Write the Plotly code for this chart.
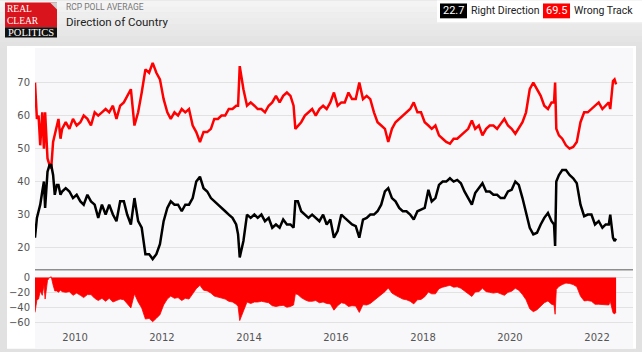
import plotly.graph_objects as go

# ---------------- data ----------------
dates = [
    "2009-01-30", "2009-02-15", "2009-03-01", "2009-03-15", "2009-04-01", "2009-04-15", "2009-04-25",
    "2009-05-05", "2009-05-15", "2009-06-01", "2009-06-15", "2009-07-01", "2009-07-15", "2009-08-01",
    "2009-08-15", "2009-09-01", "2009-09-15", "2009-10-15", "2009-11-15", "2009-12-15",
    "2010-01-15", "2010-02-15", "2010-03-15", "2010-04-15", "2010-05-15", "2010-06-15",
    "2010-07-15", "2010-08-15", "2010-09-15", "2010-10-15", "2010-11-15", "2010-12-15",
    "2011-01-15", "2011-02-15", "2011-03-15", "2011-04-15", "2011-05-15", "2011-06-15",
    "2011-07-15", "2011-08-15", "2011-09-15", "2011-10-15", "2011-11-15", "2011-12-15",
    "2012-01-15", "2012-02-15", "2012-03-15", "2012-04-15", "2012-05-15", "2012-06-15",
    "2012-07-15", "2012-08-15", "2012-09-15", "2012-10-15", "2012-11-15", "2012-12-15",
    "2013-01-15", "2013-02-15", "2013-03-15", "2013-04-15", "2013-05-15", "2013-06-15",
    "2013-07-15", "2013-08-15", "2013-09-15", "2013-10-01", "2013-10-15", "2013-11-15", "2013-12-15",
    "2014-01-15", "2014-02-15", "2014-03-15", "2014-04-15", "2014-05-15", "2014-06-15",
    "2014-07-15", "2014-08-15", "2014-09-15", "2014-10-15", "2014-11-15", "2014-12-15",
    "2015-01-10", "2015-01-25", "2015-02-15", "2015-03-15", "2015-04-15", "2015-05-15", "2015-06-15",
    "2015-07-15", "2015-08-15", "2015-09-15", "2015-10-15", "2015-11-15", "2015-12-15",
    "2016-01-15", "2016-02-15", "2016-03-15", "2016-04-15", "2016-05-15", "2016-06-15",
    "2016-07-15", "2016-08-15", "2016-09-15", "2016-10-15", "2016-11-15", "2016-12-15",
    "2017-01-15", "2017-02-15", "2017-03-15", "2017-04-15", "2017-05-15", "2017-06-15",
    "2017-07-15", "2017-08-15", "2017-09-15", "2017-10-15", "2017-11-15", "2017-12-15",
    "2018-01-15", "2018-02-15", "2018-03-15", "2018-04-15", "2018-05-15", "2018-06-15",
    "2018-07-15", "2018-08-15", "2018-09-15", "2018-10-15", "2018-11-15", "2018-12-15",
    "2019-01-15", "2019-02-15", "2019-03-15", "2019-04-15", "2019-05-15", "2019-06-15",
    "2019-07-15", "2019-08-15", "2019-09-15", "2019-10-15", "2019-11-15", "2019-12-15",
    "2020-01-15", "2020-02-15", "2020-03-15", "2020-04-15", "2020-05-15", "2020-06-15",
    "2020-07-15", "2020-08-15", "2020-09-15", "2020-10-15", "2020-11-15", "2020-12-15",
    "2021-01-05", "2021-01-14", "2021-01-24", "2021-02-15", "2021-03-15", "2021-04-15",
    "2021-05-15", "2021-06-15", "2021-07-15", "2021-08-15", "2021-09-15", "2021-10-15",
    "2021-11-15", "2021-12-15",
    "2022-01-15", "2022-02-15", "2022-03-15", "2022-04-10", "2022-04-22", "2022-05-01",
    "2022-05-15", "2022-05-28", "2022-06-10",
]

wrong_track = [
    70, 59, 60, 51, 61, 50, 61, 52, 47, 45, 44, 52, 54, 57, 59, 53, 56, 58, 56, 59,
    57, 58, 60, 59, 57, 61, 60, 61, 62, 61, 63, 59,
    63, 64, 66, 68, 57, 61, 67, 74, 73, 76, 73, 71,
    65, 61, 59, 61, 60, 62, 61, 62, 57, 55, 52, 55,
    55, 56, 59, 59, 60, 60, 62, 62, 63, 63, 75, 68, 63,
    64, 63, 62, 62, 61, 63, 64, 66, 64, 66, 67, 66,
    63, 56, 57, 58, 60, 61, 62, 60, 62, 63, 62, 64, 67,
    63, 64, 64, 67, 65, 65, 70, 65, 66, 65, 61, 58,
    57, 56, 52, 56, 58, 59, 60, 61, 62, 64, 61, 61,
    58, 57, 56, 57, 54, 53, 52, 51.5, 53, 53, 54, 55,
    56, 58.5, 56, 57, 54, 56, 57, 57, 56, 57.5, 59, 57,
    56, 54.5, 56, 58, 61, 68, 70, 68, 66, 63, 62, 64,
    64, 70, 56, 54, 53, 51, 50, 50.5, 52, 58, 61, 61, 62, 63,
    64, 62, 63, 64, 62, 66, 70.5, 71, 69.5,
]

right_direction = [
    23, 29, 31, 33, 37, 40, 32, 38, 43, 45, 45, 42, 36, 39, 39, 36, 37, 38, 37, 35,
    36, 34, 33, 36, 34, 33, 29, 33, 30, 33, 30, 28,
    34, 34, 30, 27, 35, 28, 26, 18, 18, 16.5, 18, 21,
    28, 32, 34, 33, 33, 31, 33, 33, 35, 40, 41.5, 38,
    37, 35, 34, 33, 32, 31, 30, 29, 27, 24, 17, 22, 30,
    29, 30, 29, 30, 28, 29, 26, 27, 26, 28.5, 27, 27,
    26, 34, 34, 31, 30, 29, 30, 29, 28, 30, 27, 28.5, 23,
    25, 30, 29, 28, 27, 26.5, 23, 28.5, 29, 30, 30, 31,
    33, 37, 38, 35, 34, 32, 31, 31, 30, 28.5, 31, 31.5,
    32, 37.5, 34, 35, 39, 40, 40, 41, 40, 40.5, 39.5, 37,
    35, 33, 36.5, 38, 39.5, 37, 37, 36, 36, 35, 35, 37,
    37.5, 40, 39, 35, 31, 26, 24, 24.5, 27, 29, 30.5, 28,
    27, 20.5, 40, 42, 43.5, 43.5, 42, 41, 39.5, 33, 29.5, 30, 30, 27,
    28, 26, 27, 27, 30, 27, 23, 22, 22.7,
]

spread = [round(r - w, 1) for r, w in zip(right_direction, wrong_track)]

year_ticks = ["2010-01-01", "2012-01-01", "2014-01-01", "2016-01-01",
              "2018-01-01", "2020-01-01", "2022-01-01"]
year_labels = ["2010", "2012", "2014", "2016", "2018", "2020", "2022"]
main_ticks = [20, 30, 40, 50, 60, 70]
spread_ticks = [0, -20, -40, -60]
latest_right = "22.7"
latest_wrong = "69.5"

# ---------------- layout helpers ----------------
W, H = 642, 352
L, R, T, B = 35, 9, 48, 19
PW, PH = W - L - R, H - T - B


def px(x):
    return (x - L) / PW


def py(y):
    return (H - B - y) / PH


RED = "#ff0000"
TICKFONT = dict(family="DejaVu Sans", size=10, color="#555555")

fig = go.Figure()
fig.add_trace(go.Scatter(x=dates, y=wrong_track, mode="lines", name="Wrong Track",
                         line=dict(color=RED, width=2.5), xaxis="x", yaxis="y"))
fig.add_trace(go.Scatter(x=dates, y=right_direction, mode="lines", name="Right Direction",
                         line=dict(color="#000000", width=2.5), xaxis="x", yaxis="y"))
fig.add_trace(go.Scatter(x=dates, y=spread, mode="lines", name="Spread", fill="tozeroy",
                         fillcolor=RED, line=dict(color=RED, width=0.8),
                         xaxis="x2", yaxis="y2"))

shapes = []
# header gradient bands
band_cols = ["#f4f4f4", "#f1f1f1", "#eeeeee", "#ececec", "#e9e9e9", "#e7e7e7", "#e4e4e4", "#e2e2e2"]
for i, c in enumerate(band_cols):
    shapes.append(dict(type="rect", xref="paper", yref="paper", x0=px(0), x1=px(W),
                       y0=py(i * 6), y1=py(i * 6 + 6.5), fillcolor=c, line_width=0, layer="below"))
# white panel
shapes.append(dict(type="rect", xref="paper", yref="paper", x0=px(7), x1=px(636),
                   y0=py(352), y1=py(46), fillcolor="#ffffff", line_width=0, layer="below"))
# plot background
shapes.append(dict(type="rect", xref="paper", yref="paper", x0=px(35), x1=px(633),
                   y0=py(352), y1=py(48), fillcolor="#f8f8fb", line_width=0, layer="below"))
# separator between panes
shapes.append(dict(type="line", xref="paper", yref="paper", x0=px(35), x1=px(633),
                   y0=py(272), y1=py(272), line=dict(color="#8e8e8e", width=1.5)))
# logo
shapes.append(dict(type="rect", xref="paper", yref="paper", x0=px(5), x1=px(57),
                   y0=py(27), y1=py(2), fillcolor="#d9141c", line_width=0))
shapes.append(dict(type="rect", xref="paper", yref="paper", x0=px(5), x1=px(57),
                   y0=py(37.5), y1=py(27), fillcolor="#111111", line_width=0))
shapes.append(dict(type="path", xref="paper", yref="paper",
                   path=f"M {px(50)},{py(2)} L {px(57)},{py(2)} L {px(57)},{py(9)} Z",
                   fillcolor="#cfcfcf", line_width=0))
# legend box
shapes.append(dict(type="rect", xref="paper", yref="paper", x0=px(437), x1=px(642),
                   y0=py(22), y1=py(0), fillcolor="#ffffff", line_width=0))
shapes.append(dict(type="rect", xref="paper", yref="paper", x0=px(440), x1=px(467),
                   y0=py(18), y1=py(3), fillcolor="#000000", line_width=0))
shapes.append(dict(type="rect", xref="paper", yref="paper", x0=px(543), x1=px(570),
                   y0=py(18), y1=py(3), fillcolor=RED, line_width=0))

annotations = []


def label(text, x, y, size, color, family="Roboto", anchor="left", pad=1):
    annotations.append(dict(text=text, x=px(x), y=py(y), xref="paper", yref="paper",
                            xanchor=anchor, yanchor="middle", showarrow=False, borderpad=pad,
                            align="left",
                            font=dict(family=family, size=size, color=color)))


label("REAL<br>CLEAR", 6, 15, 9.5, "#ffffff", family="Liberation Serif", pad=0)
label("POLITICS", 31, 32.5, 10.5, "#ffffff", family="Liberation Serif", anchor="center", pad=0)
label("RCP POLL AVERAGE", 64, 7, 8.5, "#777777")
label("Direction of Country", 64, 21.5, 11.5, "#222222")
label(latest_right, 453.5, 10.5, 11, "#ffffff", anchor="center", pad=0)
label("Right Direction", 470, 10.5, 10.5, "#222222", pad=0)
label(latest_wrong, 556.5, 10.5, 11, "#ffffff", anchor="center", pad=0)
label("Wrong Track", 573, 10.5, 10.5, "#222222", pad=0)

fig.update_layout(
    width=W, height=H,
    margin=dict(l=L, r=R, t=T, b=B, pad=0),
    paper_bgcolor="#e1e1e1",
    plot_bgcolor="rgba(0,0,0,0)",
    showlegend=False,
    shapes=shapes,
    annotations=annotations,
    xaxis=dict(domain=[0, 1], anchor="y", type="date", range=["2009-01-30", "2022-10-30"],
               showticklabels=False, showgrid=False, zeroline=False, showline=False,
               matches="x2"),
    xaxis2=dict(domain=[0, 1], anchor="y2", type="date", range=["2009-01-30", "2022-10-30"],
                tickvals=year_ticks, ticktext=year_labels, tickfont=TICKFONT,
                showgrid=False, zeroline=False, showline=False, ticks=""),
    yaxis=dict(domain=[py(272), 1], range=[13.3, 80.5], tickvals=main_ticks,
               gridcolor="#e2e2e2", gridwidth=1, zeroline=False, showline=False,
               tickfont=TICKFONT, ticks="", ticklabelstandoff=4),
    yaxis2=dict(domain=[0, py(273)], range=[-70.7, 9.3], tickvals=spread_ticks,
                gridcolor="#e2e2e2", gridwidth=1, zeroline=False, showline=False,
                tickfont=TICKFONT, ticks="", ticklabelstandoff=4),
)

fig.write_html("out.html")
